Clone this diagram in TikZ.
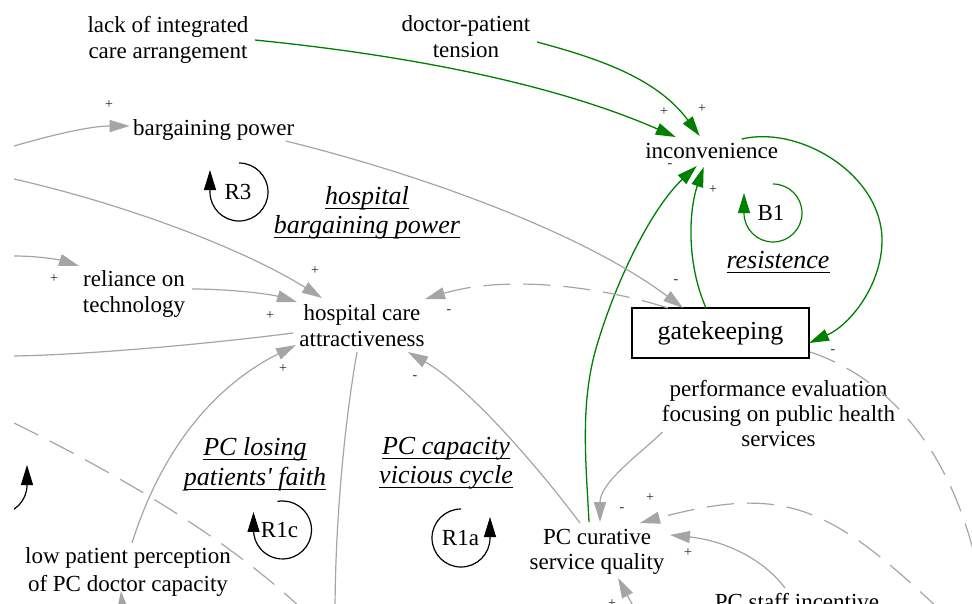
\documentclass[tikz,border=0pt]{standalone}
\usepackage{fontspec}
\setmainfont{Liberation Serif}
\usetikzlibrary{arrows.meta}
\definecolor{lgr}{RGB}{165,165,165}
\definecolor{grn}{RGB}{0,128,0}
\newcommand\myul[1]{\setbox0\hbox{#1}\rlap{\rule[-4.5pt]{\wd0}{1pt}}\box0}
\tikzset{
 txt/.style={font=\fontsize{23}{26}\selectfont, align=center, inner sep=0pt},
 ultxt/.style={font=\fontsize{26}{29.5}\selectfont, align=center, inner sep=0pt},
 pol/.style={font=\fontsize{14}{14}\selectfont, inner sep=0pt, text=black!85},
 cldtip/.style={-{Triangle[length=20pt,width=12pt]}},
 garrow/.style={draw=lgr, line width=1.2pt, cldtip},
 gline/.style={draw=lgr, line width=1.2pt},
 gdash/.style={dash pattern=on 27pt off 13pt},
 grnarrow/.style={draw=grn, line width=1.3pt, cldtip},
 looparrow/.style={line width=1.2pt, cldtip},
}
\begin{document}
\begin{tikzpicture}[x=1pt,y=1pt]
\useasboundingbox (0,0) rectangle (972,-603);
\begin{scope}
\clip (14,0) rectangle (972,-603);
% variables
\node[txt] (lack) at (168,-39.5) {lack of integrated\\care arrangement};
\node[txt] (doc) at (466,-37) {doctor-patient\\tension};
\node[txt, anchor=base] (bp) at (213.7,-135) {bargaining power};
\node[txt, anchor=base] (inc) at (711.7,-158) {inconvenience};
\node[txt] (rel) at (134,-294) {reliance on\\technology};
\node[txt] (hca) at (362,-326) {hospital care\\attractiveness};
\node[draw, line width=1.5pt, minimum width=177pt, minimum height=50pt, inner sep=0pt,
      font=\fontsize{26}{30}\selectfont] (gk) at (720.5,-333) {gatekeeping};
\node[txt, font=\fontsize{23}{25}\selectfont] (perf) at (778.5,-414) {performance evaluation\\focusing on public health\\services};
\node[txt, font=\fontsize{23}{25}\selectfont] (pcq) at (597,-552) {PC curative\\service quality};
\node[txt, font=\fontsize{23}{28}\selectfont] (lpp) at (128,-571.5) {low patient perception\\of PC doctor capacity};
\node[txt, anchor=base] (psi) at (797,-609) {PC staff incentive};
% loop names
\node[ultxt] (hbp) at (367,-212.5) {\myul{\textit{hospital}}\\\myul{\textit{bargaining power}}};
\node[ultxt, anchor=base] (res) at (778,-268) {\myul{\textit{resistence}}};
\node[ultxt] (plpf) at (255,-464) {\myul{\textit{PC losing}}\\\myul{\textit{patients\textquotesingle{} faith}}};
\node[ultxt] (pcvc) at (446,-463) {\myul{\textit{PC capacity}}\\\myul{\textit{vicious cycle}}};
% loop markers
\node[txt] (r3) at (238,-192) {R3};
\node[txt] (b1) at (771,-213) {B1};
\node[txt] (r1c) at (279.5,-530) {R1c};
\node[txt] (r1a) at (460.5,-538) {R1a};
\coordinate (lc) at (-2,-485);
\draw[looparrow] ([shift={(1,29)}]r3.center) arc[start angle=90, end angle=-180, radius=29] -- ++(0,22);
\draw[looparrow, draw=grn, fill=none] ([shift={(2,29)}]b1.center) arc[start angle=90, end angle=-180, radius=29] -- ++(0,20);
\draw[looparrow] ([shift={(-2,28.6)}]r1c.center) arc[start angle=100, end angle=-180, radius=29] -- ++(0,18);
\draw[looparrow] ([shift={(0.5,29)}]r1a.center) arc[start angle=90, end angle=360, radius=29] -- ++(0,21);
\draw[looparrow] ([shift={(-90:29)}]lc) arc[start angle=-90, end angle=0, radius=29] -- ++(0,20);
% free ends
\coordinate (eA1) at (14,-146);
\coordinate (eA2) at (14,-179);
\coordinate (eA3) at (14,-256);
\coordinate (eA5) at (14,-356);
\coordinate (eA7) at (335,-615);
\coordinate (eA12) at (985,-610);
\coordinate (eA13) at (940,-610);
\coordinate (eA15) at (638,-615);
\coordinate (eA16) at (124,-625);
\coordinate (eA17a) at (14,-423);
\coordinate (eA17b) at (305,-612);
% green links
\draw[grnarrow] ([shift={(87,-0.5)}]lack.center) .. controls (395,-54) and (548,-81) .. ([shift={(-36,21)}]inc.base);
\draw[grnarrow] ([shift={(71,-5)}]doc.center) .. controls (604.5,-60) and (658,-80) .. ([shift={(-12,22)}]inc.base);
\draw[grnarrow] ([shift={(-14.5,25)}]gk.center) .. controls (686,-262) and (689,-210) .. ([shift={(-8,-9)}]inc.base);
\draw[grnarrow] ([shift={(-8,30)}]pcq.center) .. controls (586,-462) and (579.6,-402.6) .. (597,-345)
   .. controls (617,-278) and (652.6,-207) .. ([shift={(-15,-8)}]inc.base);
\draw[grnarrow] ([shift={(30,19)}]inc.base) .. controls (800,-125) and (882,-175) .. (882,-240)
   .. controls (882,-285) and (850,-325) .. ([shift={(88.5,-10)}]gk.center);
% grey links
\draw[garrow] (eA1) .. controls (52,-135) and (90,-126) .. ([shift={(-84,9)}]bp.base);
\draw[garrow] (eA2) .. controls (124,-204) and (242,-248) .. ([shift={(-40,28)}]hca.center);
\draw[garrow] (eA3) .. controls (40,-256) and (60,-260) .. ([shift={(-55,28)}]rel.center);
\draw[garrow] ([shift={(58,5)}]rel.center) .. controls (230,-289) and (270,-294) .. ([shift={(-65,24)}]hca.center);
\draw[gline] ([shift={(-69,-7)}]hca.center) .. controls (200,-345) and (80,-355) .. (eA5);
\draw[garrow] ([shift={(4,28.5)}]lpp.center) .. controls (162,-448) and (215,-385.5) .. ([shift={(-66,-19)}]hca.center);
\draw[gline] ([shift={(-5,-26)}]hca.center) .. controls (345,-420) and (335,-520) .. (eA7);
\draw[garrow] ([shift={(-17,29)}]pcq.center) .. controls (538,-467) and (469,-387) .. ([shift={(46,-26)}]hca.center);
\draw[garrow, gdash] ([shift={(-52.5,25)}]gk.center) .. controls (592,-284) and (502,-276) .. ([shift={(63,27)}]hca.center);
\draw[garrow] ([shift={(72,-6)}]bp.base) .. controls (412,-172) and (579,-230) .. ([shift={(-37.5,25)}]gk.center);
\draw[garrow] ([shift={(-116,-18)}]perf.center) .. controls (641,-453) and (600,-482) .. ([shift={(3,30)}]pcq.center);
\draw[gline, gdash] ([shift={(89.5,-19)}]gk.center) .. controls (880,-375) and (962,-445) .. (eA12);
\draw[garrow, gdash] (eA13) .. controls (830,-506) and (784,-484) .. ([shift={(43,29)}]pcq.center);
\draw[garrow] ([shift={(-12,21)}]psi.base) .. controls (761,-556) and (720,-540) .. ([shift={(73,17)}]pcq.center);
\draw[garrow] (eA15) -- ([shift={(21,-26)}]pcq.center);
\draw[garrow] (eA16) -- ([shift={(-7,-19.5)}]lpp.center);
\draw[gline, gdash] (eA17a) .. controls (120,-475) and (230,-540) .. (eA17b);
% polarities
\node[pol] (s1) at (109,-105) {+};
\node[pol] (s2) at (664,-112) {+};
\node[pol] (s3) at (702,-109) {+};
\node[pol] (s4) at (670,-166) {-};
\node[pol] (s5) at (713,-190) {+};
\node[pol] (s6) at (315,-271) {+};
\node[pol] (s7) at (54,-279) {+};
\node[pol] (s8) at (270,-316) {+};
\node[pol] (s9) at (283,-369) {+};
\node[pol] (s10) at (449,-312) {-};
\node[pol] (s11) at (415,-378) {-};
\node[pol] (s12) at (676,-282) {-};
\node[pol] (s13) at (833,-352) {-};
\node[pol] (s14) at (622,-510) {-};
\node[pol] (s15) at (650,-498) {+};
\node[pol] (s16) at (688,-553) {+};
\node[pol] (s17) at (612,-604) {+};
\end{scope}
\end{tikzpicture}
\end{document}
